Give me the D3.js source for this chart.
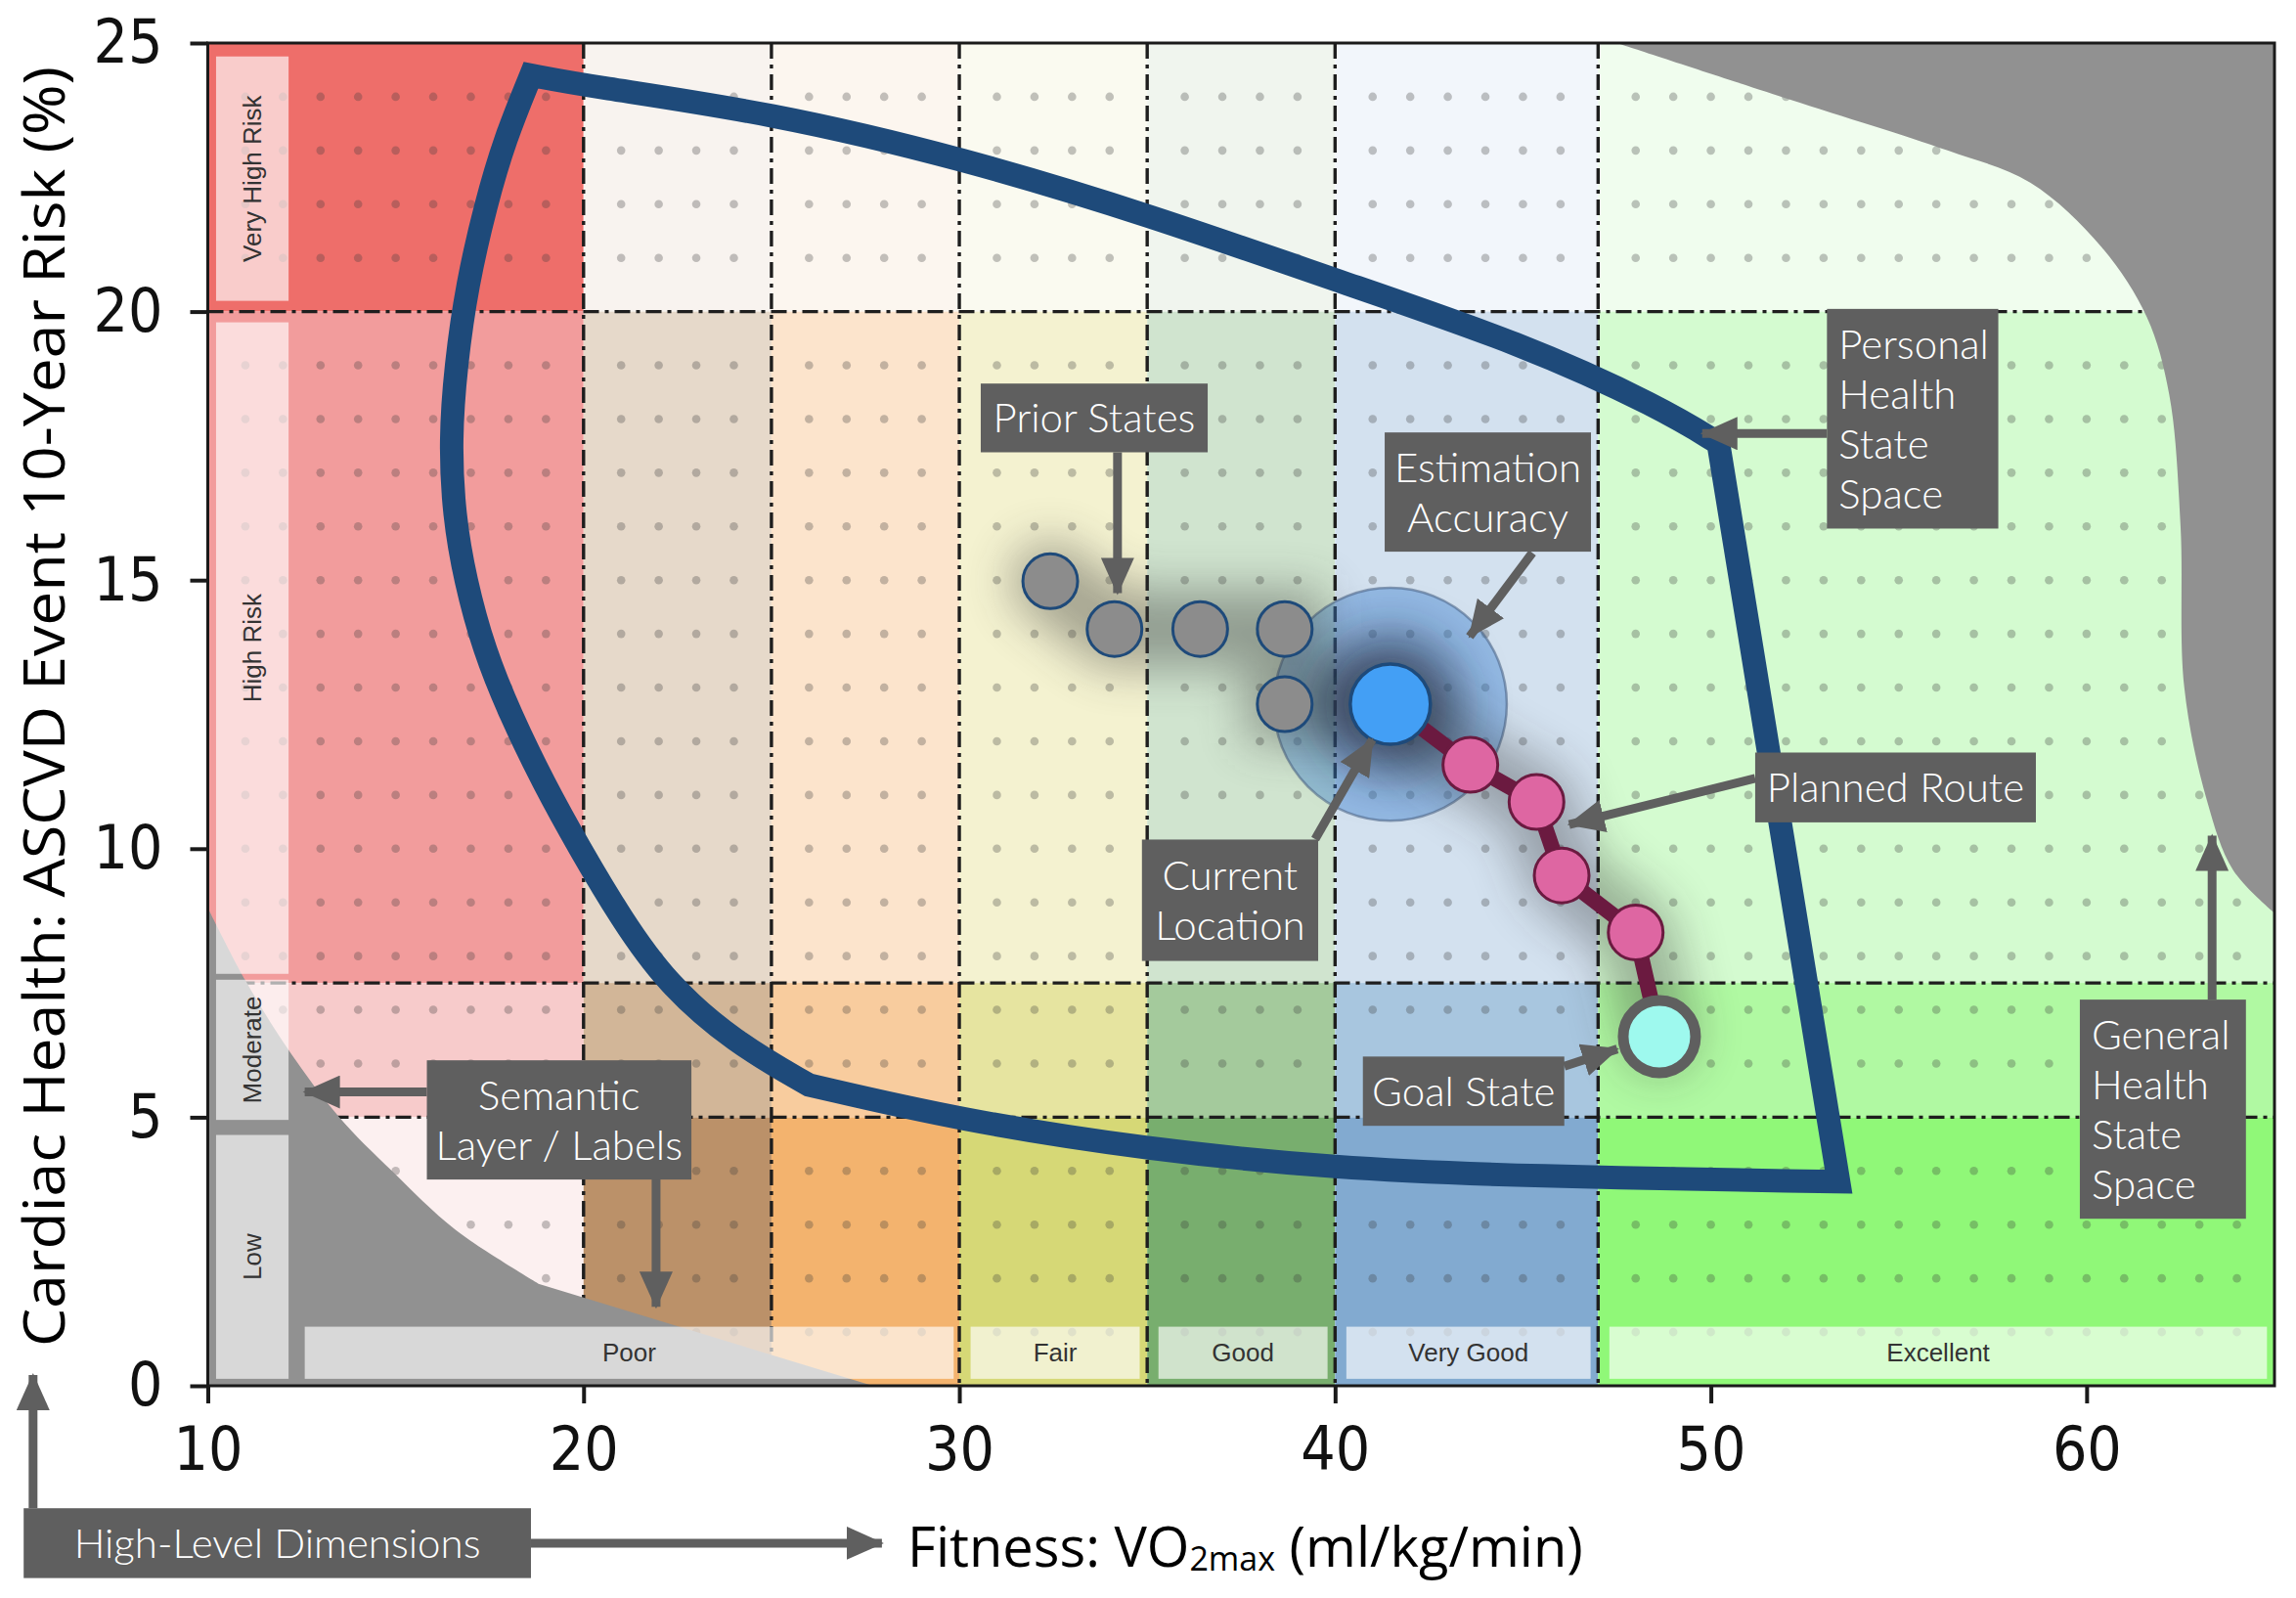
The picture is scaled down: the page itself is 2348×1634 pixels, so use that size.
<!DOCTYPE html>
<html>
<head>
<meta charset="utf-8">
<script src="https://cdn.jsdelivr.net/npm/d3@7"></script>
<style>
  body { margin: 0; background: #fff; }
  svg { display: block; }
</style>
</head>
<body>
<div id="chart"></div>
<script>
// ---- data ----
const xTicks = [10, 20, 30, 40, 50, 60];
const yTicks = [0, 5, 10, 15, 20, 25];

// fitness bands (VO2max) and risk bands (%)
const fitnessEdges = [10, 20, 25, 30, 35, 40, 47, 65];
const riskEdges = [0, 5, 7.5, 20, 25];
const vGrid = [20, 25, 30, 35, 40, 47];
const hGrid = [5, 7.5, 20];

// cell colours, rows from top (20-25) to bottom (0-5)
const cellColors = [
  ["#ee6e6a", "#f8f3ef", "#fcf6ef", "#fafaf0", "#f0f5ee", "#f2f6fb", "#f0fdee"],
  ["#f29c9c", "#e6d9ca", "#fce4cc", "#f4f2d0", "#d0e4cf", "#d3e1ef", "#d4fbd0"],
  ["#f7cbcb", "#d2b698", "#f8cc9e", "#e6e4a0", "#a4ca9c", "#a8c6df", "#b0f9a2"],
  ["#fcf0f0", "#bb9169", "#f3b36e", "#d6d876", "#78ae6e", "#82aad0", "#90f878"]
];

const riskLabels = ["Very High Risk", "High Risk", "Moderate", "Low"];
const riskLabelY = [[20.2, 24.75], [7.67, 19.8], [4.95, 7.56], [0.13, 4.67]];
const fitnessLabels = ["Poor", "Fair", "Good", "Very Good", "Excellent"];
const fitnessLabelX = [[12.58, 29.85], [30.3, 34.8], [35.3, 39.8], [40.3, 46.8], [47.3, 64.8]];

// general health state space: grey outside areas
const grayTopRight = [[47.5, 25], [52.1, 23.95], [56.3, 23.0], [58.5, 22.4], [60.4, 21.2], [61.6, 19.9],
  [62.2, 18.45], [62.5, 16.0], [62.6, 13.0], [63.2, 10.9], [63.9, 9.6], [65, 8.8]];
const grayBottomLeft = [[10, 8.9], [11, 7.55], [12.2, 6.2], [13.5, 5.0], [14.9, 4.0], [16.6, 2.9], [18.8, 1.9]];
const grayBottomEnd = [27.7, 0];

// personal health state space outline (control points)
const leftArc = [[18.6, 24.4], [17.9, 23.2], [17.4, 22], [16.9, 20.5], [16.6, 19], [16.45, 17.6], [16.55, 16.2],
  [16.85, 15], [17.35, 13.7], [18.05, 12.5], [18.95, 11.2], [19.9, 10.0], [21.0, 8.7], [22.2, 7.5],
  [24.0, 6.4], [26.0, 5.6]];
const bottomEdge = [[26.0, 5.6], [30, 4.95], [35, 4.4], [40, 4.05], [45, 3.9], [53.4, 3.8]];
const rightEdge = [[53.4, 3.8], [50.2, 17.55]];
const topEdge = [[50.2, 17.55], [48.7, 18.2], [45, 19.4], [40.16, 20.55], [35.05, 21.8], [30.1, 22.85],
  [25, 23.7], [20.1, 24.2], [18.6, 24.4]];

const priorStates = [[32.42, 14.98], [34.13, 14.09], [36.41, 14.09], [38.66, 14.09], [38.66, 12.69]];
const currentLocation = [41.47, 12.69];
const estimationRadius = 3.1;
const plannedRoute = [[43.6, 11.56], [45.36, 10.87], [46.03, 9.5], [48.0, 8.44]];
const goalState = [48.63, 6.5];

// annotation boxes: [x0, x1, y0, y1] in data units, lines, alignment
const notes = [
  { lines: ["Prior States"], box: [30.57, 36.61, 17.38, 18.66], align: "middle" },
  { lines: ["Estimation", "Accuracy"], box: [41.32, 46.81, 15.53, 17.75], align: "middle" },
  { lines: ["Current", "Location"], box: [34.86, 39.55, 7.91, 10.17], align: "middle" },
  { lines: ["Goal State"], box: [40.74, 46.1, 4.84, 6.13], align: "middle" },
  { lines: ["Planned Route"], box: [51.18, 58.65, 10.49, 11.79], align: "middle" },
  { lines: ["General", "Health", "State", "Space"], box: [59.82, 64.24, 3.11, 7.19], align: "start" },
  { lines: ["Personal", "Health", "State", "Space"], box: [53.09, 57.65, 15.96, 20.05], align: "start" },
  { lines: ["Semantic", "Layer / Labels"], box: [15.83, 22.87, 3.84, 6.06], align: "middle" },
  { lines: ["High-Level Dimensions"], box: [5.1, 18.6, -3.58, -2.28], align: "middle" }
];
// arrows: [x1, y1, x2, y2] in data units
const arrows = [
  [34.21, 17.38, 34.21, 14.76],
  [45.25, 15.51, 43.58, 13.95],
  [39.47, 10.18, 40.99, 12.03],
  [46.1, 5.95, 47.51, 6.27],
  [51.18, 11.31, 46.23, 10.45],
  [63.34, 7.19, 63.34, 10.24],
  [53.09, 17.73, 49.77, 17.73],
  [15.83, 5.47, 12.58, 5.47],
  [21.93, 3.84, 21.93, 1.47],
  [5.35, -2.28, 5.35, 0.2],
  [18.6, -2.93, 27.94, -2.93]
];

// ---- chart ----
const W = 2348, H = 1634;
const x = d3.scaleLinear().domain([10, 65]).range([212.5, 2326]);
const y = d3.scaleLinear().domain([0, 25]).range([1417, 44]);

const svg = d3.select("#chart").append("svg")
    .attr("width", W)
    .attr("height", H);

const defs = svg.append("defs");
defs.append("filter").attr("id", "blur")
    .attr("filterUnits", "userSpaceOnUse")
    .attr("x", 0).attr("y", 0).attr("width", W).attr("height", H)
  .append("feGaussianBlur").attr("stdDeviation", 24);
defs.append("clipPath").attr("id", "plot")
  .append("rect").attr("x", x(10)).attr("y", y(25))
    .attr("width", x(65) - x(10)).attr("height", y(0) - y(25));
defs.append("marker").attr("id", "head")
    .attr("markerUnits", "userSpaceOnUse")
    .attr("markerWidth", 40).attr("markerHeight", 34)
    .attr("refX", 36).attr("refY", 17)
    .attr("orient", "auto")
  .append("path").attr("d", "M0,0L38,17L0,34Z").attr("fill", "#5f5f5f");

const plot = svg.append("g").attr("clip-path", "url(#plot)");

// cells
const rowsTopDown = riskEdges.slice().reverse();
cellColors.forEach((row, r) => {
  row.forEach((c, k) => {
    plot.append("rect")
        .attr("x", x(fitnessEdges[k]))
        .attr("y", y(rowsTopDown[r]))
        .attr("width", x(fitnessEdges[k + 1]) - x(fitnessEdges[k]))
        .attr("height", y(rowsTopDown[r + 1]) - y(rowsTopDown[r]))
        .attr("fill", c);
  });
});

// dot grid
const dots = [];
for (let i = 11; i <= 64; i++) {
  if (vGrid.includes(i)) continue;
  for (let j = 1; j <= 24; j++) {
    if (hGrid.includes(j)) continue;
    dots.push([i, j]);
  }
}
plot.append("g").selectAll("circle").data(dots).join("circle")
    .attr("cx", d => x(d[0])).attr("cy", d => y(d[1])).attr("r", 4.3)
    .attr("fill", "rgba(60,60,60,0.3)");

// dash-dot grid
plot.append("g").selectAll("line").data(vGrid).join("line")
    .attr("x1", d => x(d)).attr("x2", d => x(d))
    .attr("y1", y(25)).attr("y2", y(0))
    .attr("stroke", "#1e1e1e").attr("stroke-width", 3.4)
    .attr("stroke-dasharray", "16,6,4,6");
plot.append("g").selectAll("line").data(hGrid).join("line")
    .attr("y1", d => y(d)).attr("y2", d => y(d))
    .attr("x1", x(10)).attr("x2", x(65))
    .attr("stroke", "#1e1e1e").attr("stroke-width", 3.4)
    .attr("stroke-dasharray", "16,6,4,6");

// grey regions (outside general health state space)
const smooth = d3.line().x(d => x(d[0])).y(d => y(d[1])).curve(d3.curveCatmullRom.alpha(0.5));
plot.append("path")
    .attr("d", smooth(grayTopRight) + `L${x(65)},${y(25)}Z`)
    .attr("fill", "#919191");
plot.append("path")
    .attr("d", smooth(grayBottomLeft) + `L${x(grayBottomEnd[0])},${y(grayBottomEnd[1])}L${x(10)},${y(0)}Z`)
    .attr("fill", "#919191");

// semantic label boxes
riskLabels.forEach((t, i) => {
  const [y0, y1] = riskLabelY[i];
  svg.append("rect")
      .attr("x", x(10.22)).attr("y", y(y1))
      .attr("width", x(12.15) - x(10.22)).attr("height", y(y0) - y(y1))
      .attr("fill", "rgba(255,255,255,0.65)");
  const cx = (x(10.22) + x(12.15)) / 2, cy = (y(y0) + y(y1)) / 2;
  svg.append("text")
      .attr("transform", `translate(${cx + 9},${cy}) rotate(-90)`)
      .attr("text-anchor", "middle")
      .attr("font-family", "'Liberation Sans', Arial, sans-serif")
      .attr("font-size", 26).attr("fill", "#333")
      .text(t);
});
fitnessLabels.forEach((t, i) => {
  const [x0, x1] = fitnessLabelX[i];
  svg.append("rect")
      .attr("x", x(x0)).attr("y", y(1.1))
      .attr("width", x(x1) - x(x0)).attr("height", y(0.13) - y(1.1))
      .attr("fill", "rgba(255,255,255,0.65)");
  svg.append("text")
      .attr("x", (x(x0) + x(x1)) / 2).attr("y", (y(1.1) + y(0.13)) / 2 + 9)
      .attr("text-anchor", "middle")
      .attr("font-family", "'Liberation Sans', Arial, sans-serif")
      .attr("font-size", 26).attr("fill", "#333")
      .text(t);
});

// frame and axes
svg.append("rect")
    .attr("x", x(10)).attr("y", y(25))
    .attr("width", x(65) - x(10)).attr("height", y(0) - y(25))
    .attr("fill", "none").attr("stroke", "#1a1a1a").attr("stroke-width", 3);

const tickFont = g => g.selectAll("text")
    .attr("font-family", "'DejaVu Sans', sans-serif")
    .attr("font-stretch", "condensed")
    .attr("font-size", 62).attr("fill", "#111");

svg.append("g").attr("transform", `translate(0,${y(0)})`)
    .call(d3.axisBottom(x).tickValues(xTicks).tickSize(18).tickPadding(24).tickFormat(d3.format("d")))
    .call(g => g.select(".domain").remove())
    .call(g => g.selectAll("line").attr("stroke", "#1a1a1a").attr("stroke-width", 4))
    .call(tickFont);
svg.append("g").attr("transform", `translate(${x(10)},0)`)
    .call(d3.axisLeft(y).tickValues(yTicks).tickSize(18).tickPadding(28).tickFormat(d3.format("d")))
    .call(g => g.select(".domain").remove())
    .call(g => g.selectAll("line").attr("stroke", "#1a1a1a").attr("stroke-width", 4))
    .call(tickFont);

// personal health state space outline
const straight = d3.line().x(d => x(d[0])).y(d => y(d[1]));
const spline = d3.line().x(d => x(d[0])).y(d => y(d[1])).curve(d3.curveBasis);
let outline = "";
[leftArc, bottomEdge, rightEdge, topEdge].forEach((seg, i) => {
  let p = seg.length > 2 ? spline(seg) : straight(seg);
  if (i > 0) p = "L" + p.slice(1);
  outline += p;
});
svg.append("path")
    .attr("d", outline + "Z")
    .attr("fill", "none")
    .attr("stroke", "#1e4a7a")
    .attr("stroke-width", 24)
    .attr("stroke-linejoin", "miter");

// estimation accuracy
const er = x(currentLocation[0] + estimationRadius) - x(currentLocation[0]);
svg.append("circle")
    .attr("cx", x(currentLocation[0])).attr("cy", y(currentLocation[1])).attr("r", er)
    .attr("fill", "rgba(60,130,210,0.42)")
    .attr("stroke", "rgba(70,95,130,0.55)").attr("stroke-width", 2.5);

// soft shadows
svg.append("path")
    .attr("d", straight(priorStates.concat([currentLocation])))
    .attr("fill", "none").attr("stroke", "#3a3a3a").attr("stroke-width", 80)
    .attr("stroke-linecap", "round").attr("opacity", 0.42)
    .attr("filter", "url(#blur)");
svg.append("circle")
    .attr("cx", x(currentLocation[0])).attr("cy", y(currentLocation[1])).attr("r", 75)
    .attr("fill", "#142440").attr("opacity", 0.5)
    .attr("filter", "url(#blur)");
svg.append("path")
    .attr("d", straight([currentLocation].concat(plannedRoute, [goalState])))
    .attr("fill", "none").attr("stroke", "#2a2a2a").attr("stroke-width", 75)
    .attr("stroke-linecap", "round").attr("opacity", 0.35)
    .attr("filter", "url(#blur)");

// prior states
svg.append("g").selectAll("circle").data(priorStates).join("circle")
    .attr("cx", d => x(d[0])).attr("cy", d => y(d[1])).attr("r", 28)
    .attr("fill", "#8c8c8c").attr("stroke", "#1e4a7a").attr("stroke-width", 3);

// planned route
svg.append("path")
    .attr("d", straight([currentLocation].concat(plannedRoute, [goalState])))
    .attr("fill", "none").attr("stroke", "#6b1a40").attr("stroke-width", 16);
svg.append("g").selectAll("circle").data(plannedRoute).join("circle")
    .attr("cx", d => x(d[0])).attr("cy", d => y(d[1])).attr("r", 28)
    .attr("fill", "#de66a2").attr("stroke", "#6b1a40").attr("stroke-width", 3);

// current location
svg.append("circle")
    .attr("cx", x(currentLocation[0])).attr("cy", y(currentLocation[1])).attr("r", 41)
    .attr("fill", "#439ff5").attr("stroke", "#1e4a7a").attr("stroke-width", 3.5);

// goal state
svg.append("circle")
    .attr("cx", x(goalState[0])).attr("cy", y(goalState[1])).attr("r", 37)
    .attr("fill", "#9ef9ee").attr("stroke", "#5f5f5f").attr("stroke-width", 11);

// annotation arrows
svg.append("g").selectAll("line").data(arrows).join("line")
    .attr("x1", d => x(d[0])).attr("y1", d => y(d[1]))
    .attr("x2", d => x(d[2])).attr("y2", d => y(d[3]))
    .attr("stroke", "#5f5f5f").attr("stroke-width", 9)
    .attr("marker-end", "url(#head)");

// annotation boxes
const fs = 42, lh = 51;
notes.forEach(n => {
  const [x0, x1, y0, y1] = n.box;
  const bx = x(x0), by = y(y1), bw = x(x1) - x(x0), bh = y(y0) - y(y1);
  const g = svg.append("g");
  g.append("rect").attr("x", bx).attr("y", by).attr("width", bw).attr("height", bh)
      .attr("fill", "#5f5f5f");
  const cy = by + bh / 2;
  const txt = g.append("text")
      .attr("font-family", "Lato, 'Open Sans', sans-serif")
      .attr("font-weight", 300)
      .attr("font-size", fs).attr("fill", "#fff")
      .attr("text-anchor", n.align);
  n.lines.forEach((l, i) => {
    txt.append("tspan")
        .attr("x", n.align === "middle" ? bx + bw / 2 : bx + 12)
        .attr("y", cy + (i - (n.lines.length - 1) / 2) * lh + fs * 0.36)
        .text(l);
  });
});

// axis titles
svg.append("text")
    .attr("transform", `translate(66,${(68 + 1377) / 2}) rotate(-90)`)
    .attr("text-anchor", "middle")
    .attr("font-family", "'Open Sans', sans-serif")
    .attr("font-size", 58).attr("fill", "#000")
    .attr("textLength", 1309).attr("lengthAdjust", "spacingAndGlyphs")
    .text("Cardiac Health: ASCVD Event 10-Year Risk (%)");

const xt = svg.append("text")
    .attr("x", 928).attr("y", 1602)
    .attr("font-family", "'Open Sans', sans-serif")
    .attr("font-size", 56).attr("fill", "#000");
xt.append("tspan").text("Fitness: VO");
xt.append("tspan").attr("font-size", 34).attr("dy", 4).text("2max");
xt.append("tspan").attr("dy", -4).text(" (ml/kg/min)");
</script>
</body>
</html>
